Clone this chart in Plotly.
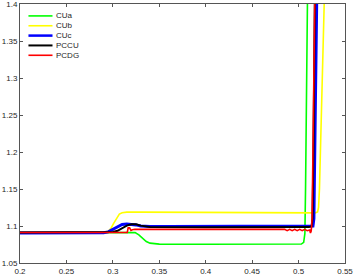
import plotly.graph_objects as go

# values
green_x = [0.2, 0.31, 0.32, 0.324, 0.328, 0.332, 0.336, 0.340, 0.345, 0.35, 0.40, 0.45, 0.50,
           0.503, 0.5055, 0.5068, 0.5075, 0.5085, 0.5097]
green_y = [1.0912, 1.0912, 1.0915, 1.091, 1.088, 1.083, 1.079, 1.0768, 1.0758, 1.0755, 1.0753,
           1.0752, 1.0753, 1.0756, 1.078, 1.09, 1.15, 1.30, 1.42]

yellow_x = [0.2, 0.29, 0.295, 0.298, 0.301, 0.304, 0.307, 0.310, 0.315, 0.33, 0.40, 0.45, 0.50,
            0.518, 0.5205, 0.5215, 0.5225, 0.5245, 0.5265, 0.528]
yellow_y = [1.0912, 1.0915, 1.093, 1.097, 1.104, 1.111, 1.116, 1.118, 1.1188, 1.1188, 1.1185,
            1.118, 1.1178, 1.1178, 1.119, 1.125, 1.15, 1.25, 1.35, 1.42]

blue_x = [0.2, 0.29, 0.295, 0.300, 0.305, 0.310, 0.315, 0.320, 0.325, 0.330, 0.335, 0.34, 0.36,
          0.40, 0.45, 0.50, 0.512, 0.5155, 0.5165, 0.5175, 0.519, 0.5197]
blue_y = [1.0905, 1.0908, 1.092, 1.095, 1.099, 1.102, 1.1027, 1.1025, 1.1015, 1.100, 1.0995,
          1.0993, 1.0993, 1.0993, 1.0993, 1.0993, 1.0995, 1.100, 1.11, 1.2, 1.33, 1.42]

black_x = [0.2, 0.295, 0.300, 0.305, 0.310, 0.315, 0.320, 0.325, 0.330, 0.335, 0.34, 0.40, 0.50,
           0.511, 0.514, 0.5150, 0.516, 0.517, 0.5176]
black_y = [1.0912, 1.0913, 1.092, 1.0935, 1.097, 1.1005, 1.1023, 1.1022, 1.1005, 1.099, 1.0985,
           1.0983, 1.0983, 1.0985, 1.0995, 1.11, 1.2, 1.33, 1.42]

red_x = [0.2, 0.3155, 0.3165, 0.318, 0.3195, 0.321, 0.3238, 0.33, 0.40, 0.48, 0.485,
         0.4877, 0.4904, 0.4931, 0.4958, 0.4985, 0.5012, 0.5039, 0.5066, 0.5093, 0.512,
         0.5128, 0.5136, 0.514, 0.5145, 0.5155, 0.5165, 0.5176]
red_y = [1.0912, 1.0912, 1.0975, 1.0975, 1.094, 1.095, 1.0955, 1.0955, 1.0955, 1.0955, 1.0955,
         1.0937, 1.0955, 1.0937, 1.0955, 1.0937, 1.0955, 1.0937, 1.0955, 1.0937, 1.0945,
         1.0905, 1.093, 1.099, 1.11, 1.2, 1.33, 1.42]

names = ["CUa", "CUb", "CUc", "PCCU", "PCDG"]
colors = ["#00ff00", "#ffff00", "#0000ff", "#000000", "#ff0000"]
widths = [1.6, 1.6, 3, 2, 1.6]
series = [(green_x, green_y), (yellow_x, yellow_y), (blue_x, blue_y),
          (black_x, black_y), (red_x, red_y)]

x_ticks = [0.2, 0.25, 0.3, 0.35, 0.4, 0.45, 0.5, 0.55]
y_ticks = [1.05, 1.1, 1.15, 1.2, 1.25, 1.3, 1.35, 1.4]

fig = go.Figure()
for (xs, ys), name, c, w in zip(series, names, colors, widths):
    fig.add_trace(go.Scatter(x=xs, y=ys, mode="lines", name=name,
                             line=dict(color=c, width=w), showlegend=False))

# MATLAB-style legend drawn by hand (plotly legend rows are too tall)
shapes = []
annotations = []
legend_rows = [0.954, 0.916, 0.878, 0.840, 0.802]
for name, c, w, yy in zip(names, colors, widths, legend_rows):
    shapes.append(dict(type="line", xref="paper", yref="paper", x0=0.026, x1=0.100,
                       y0=yy, y1=yy, line=dict(color=c, width=min(w, 2.5))))
    annotations.append(dict(text=name, xref="paper", yref="paper", x=0.104, y=yy,
                            xanchor="left", yanchor="middle", showarrow=False,
                            font=dict(size=8, color="#262626")))

axis_style = dict(
    showgrid=False, zeroline=False, showline=True, linecolor="#555", linewidth=1,
    mirror="ticks", ticks="inside", ticklen=3, tickcolor="#555", automargin=False,
    tickfont=dict(size=8, color="#262626"), ticklabeloverflow="allow",
)

fig.update_layout(
    template="none",
    width=354, height=276,
    margin=dict(l=20, r=9, t=4, b=13),
    paper_bgcolor="white", plot_bgcolor="white",
    font=dict(family="Liberation Sans, Arial", size=8),
    showlegend=False,
    shapes=shapes,
    annotations=annotations,
    xaxis=dict(range=[0.2, 0.55], tickvals=x_ticks,
               ticktext=[f"{v:g}" for v in x_ticks], **axis_style),
    yaxis=dict(range=[1.05, 1.40002], tickvals=y_ticks,
               ticktext=[f"{v:g}" for v in y_ticks], **axis_style),
)

# the page body has an 8px default margin; drop it so the figure sits at 0,0
fig.write_html("out.html", config={"displayModeBar": False},
               post_script="document.body.style.margin='0px';")
